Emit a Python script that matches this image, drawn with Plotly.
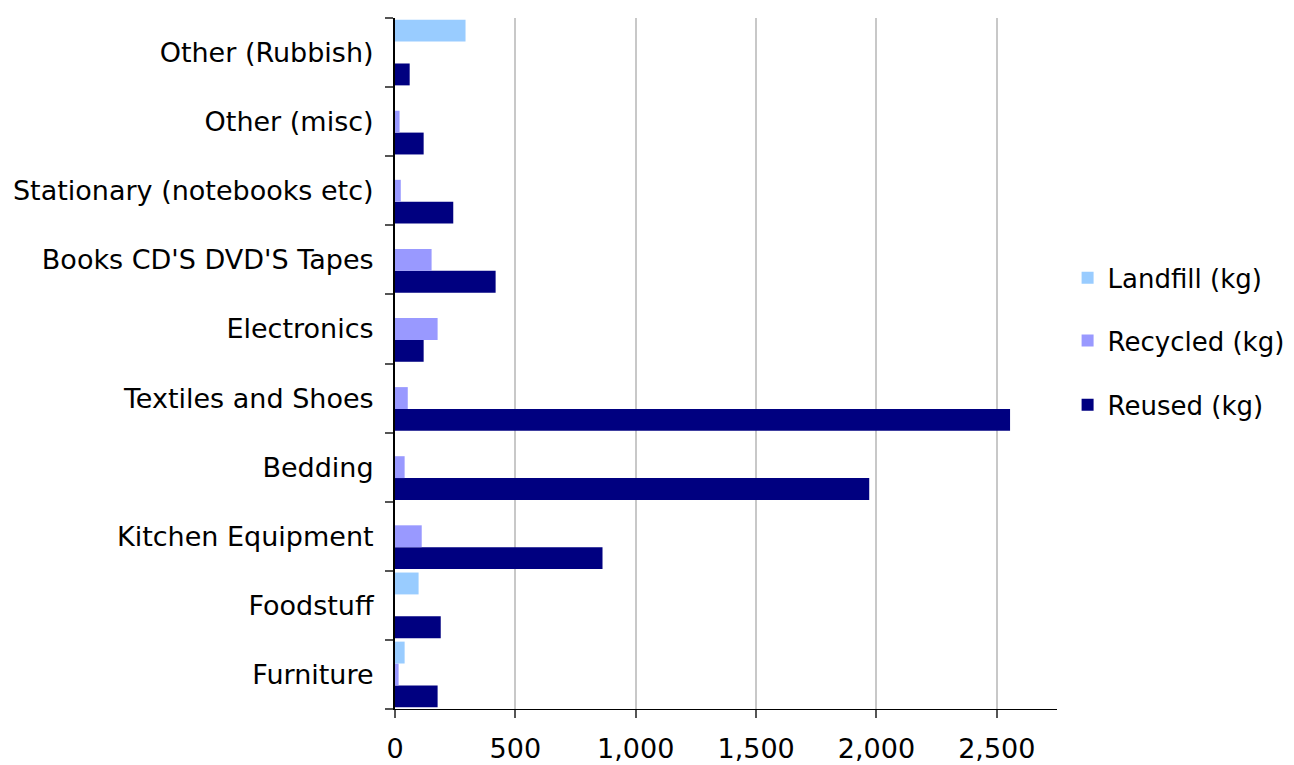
import plotly.graph_objects as go

categories = ["Furniture", "Foodstuff", "Kitchen Equipment", "Bedding", "Textiles and Shoes",
              "Electronics", "Books CD'S DVD'S Tapes", "Stationary (notebooks etc)",
              "Other (misc)", "Other (Rubbish)"]
landfill = [40, 98, 0, 0, 0, 0, 0, 0, 0, 293]
recycled = [15, 0, 111, 40, 53, 177, 152, 24, 19, 0]
reused = [177, 190, 862, 1970, 2555, 119, 418, 242, 119, 61]

# trace order: first trace sits lowest inside each category group
series = [
    ("Reused (kg)", reused, "#000080", "legend4"),
    ("Recycled (kg)", recycled, "#9999FF", "legend3"),
    ("Landfill (kg)", landfill, "#99CCFF", "legend2"),
]

fig = go.Figure()
for name, vals, color, leg in series:
    fig.add_trace(go.Bar(
        y=categories, x=vals, name=name, orientation="h",
        marker=dict(color=color, line=dict(width=0)),
        legend=leg, showlegend=True,
    ))

font = "DejaVu Sans, Verdana, sans-serif"
fs = 27
lfs = 26
leg_common = dict(x=1.016, xanchor="left", yanchor="middle",
                  font=dict(size=lfs, color="black"), itemwidth=30,
                  bgcolor="rgba(0,0,0,0)")

fig.update_layout(
    width=1286, height=757,
    margin=dict(l=387, r=237, t=10, b=56, autoexpand=False),
    paper_bgcolor="white", plot_bgcolor="white",
    barmode="group", bargap=0.05, bargroupgap=0,
    font=dict(family=font, size=fs, color="black"),
    legend2=dict(y=0.624, **leg_common),
    legend3=dict(y=0.533, **leg_common),
    legend4=dict(y=0.440, **leg_common),
    xaxis=dict(
        range=[0, 2750], tickvals=[0, 500, 1000, 1500, 2000, 2500],
        tickformat=",d", showgrid=True, gridcolor="#c8c8c8", gridwidth=2,
        showline=True, linecolor="black", linewidth=1,
        ticks="outside", ticklen=8, tickcolor="#555555", tickwidth=2,
        zeroline=False, ticklabelstandoff=8,
    ),
    yaxis=dict(
        categoryorder="array", categoryarray=categories,
        showline=True, linecolor="black", linewidth=2,
        ticks="outside", ticklen=8, tickcolor="#555555", tickwidth=2,
        tickson="boundaries", showgrid=False, ticklabelstandoff=14,
    ),
)

fig.write_html("out.html")
